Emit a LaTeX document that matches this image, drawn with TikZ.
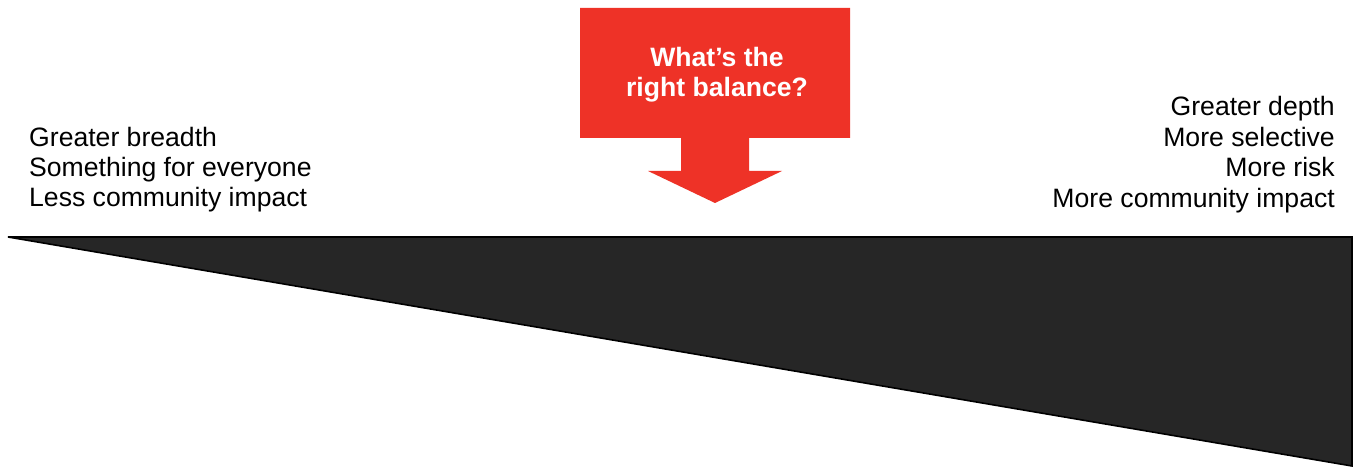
\documentclass[tikz,border=0pt]{standalone}
\usepackage{fontspec}
\setmainfont{Liberation Sans}
\usepackage{tikz}
\usetikzlibrary{positioning}
\definecolor{callred}{RGB}{238,50,39}
\definecolor{wedgegray}{RGB}{38,38,38}

\begin{document}
\begin{tikzpicture}[x=1pt, y=1pt,
    sidetext/.style={inner sep=0pt, font=\fontsize{26.6}{30}\selectfont},
    calltext/.style={inner sep=0pt, text=white, font=\fontsize{26.6}{30}\selectfont\bfseries}]
      \useasboundingbox (0,0) rectangle (1354,468);
      % the wedge
      \draw[line width=1.6pt, fill=wedgegray, line join=miter] (8,231) -- (1352,231) -- (1352,2) -- cycle;
      % the callout arrow
      \fill[callred] (580,460) -- (850,460) -- (850,330) -- (749,330) -- (749,297) -- (782,297)
        -- (715,265) -- (648,297) -- (681,297) -- (681,330) -- (580,330) -- cycle;
      \node[calltext, anchor=base] (q1) at (717,401) {What’s the};
      \node[calltext, anchor=base] (q2) at (717,371) {right balance?};
      % left side
      \foreach \t [count=\i] in {Greater breadth, Something for everyone, Less community impact}
        \node[sidetext, anchor=base west] (left\i) at (29, 321-30*\i+30) {\t};
      % right side
      \foreach \t [count=\i] in {Greater depth, More selective, More risk, More community impact}
        \node[sidetext, anchor=base east] (right\i) at (1335, 352-30.5*\i+30.5) {\t};
    \end{tikzpicture}
\end{document}
